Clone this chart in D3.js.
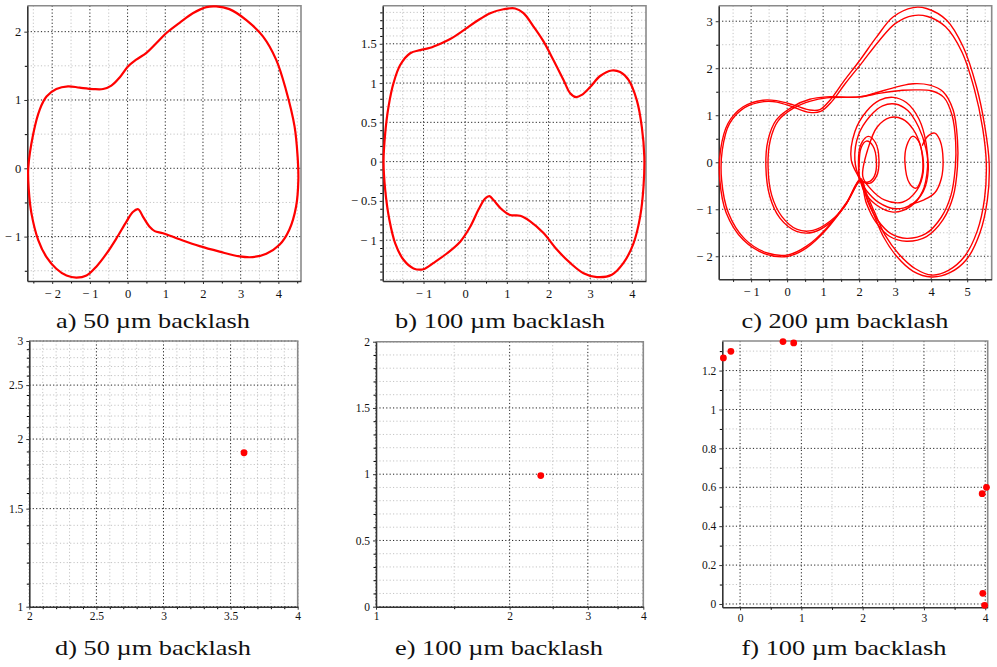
<!DOCTYPE html>
<html>
<head>
<meta charset="utf-8">
<script src="https://cdn.jsdelivr.net/npm/d3@7"></script>
<style>
  body { margin: 0; background: #fff; }
  svg { display: block; }
</style>
</head>
<body>
<svg id="chart" width="997" height="667"></svg>
<script>
const serif = "'Liberation Serif', 'DejaVu Serif', 'Times New Roman', Times, serif";

// ---- panel a: 50 um backlash, phase portrait (one closed orbit)
const orbitA = [
  [-2.635,0],[-2.50,0.51],[-2.33,0.86],[-2.15,1.05],[-1.89,1.16],[-1.58,1.20],[-1.27,1.18],[-0.91,1.16],
  [-0.65,1.16],[-0.43,1.21],[-0.21,1.33],[0.01,1.49],[0.23,1.59],[0.50,1.69],[0.76,1.83],[1.03,1.98],
  [1.38,2.13],[1.73,2.27],[2.09,2.36],[2.35,2.37],[2.70,2.33],[3.15,2.17],[3.59,1.93],[3.94,1.59],
  [4.20,1.15],[4.43,0.61],[4.51,0.17],[4.53,-0.17],[4.47,-0.56],[4.29,-0.90],[4.03,-1.12],[3.68,-1.25],
  [3.32,-1.30],[2.97,-1.29],[2.44,-1.22],[1.91,-1.14],[1.38,-1.04],[0.94,-0.95],[0.72,-0.92],[0.59,-0.86],
  [0.41,-0.71],[0.28,-0.60],[0.14,-0.64],[-0.03,-0.78],[-0.30,-1.03],[-0.56,-1.25],[-0.83,-1.44],
  [-1.09,-1.57],[-1.36,-1.60],[-1.62,-1.57],[-1.89,-1.47],[-2.15,-1.30],[-2.37,-1.05],[-2.55,-0.66],[-2.62,-0.32]
];

// ---- panel b: 100 um backlash
const orbitB = [
  [-1.96,0],[-1.92,0.36],[-1.84,0.70],[-1.72,1.0],[-1.56,1.23],[-1.32,1.38],[-1.08,1.42],[-0.84,1.45],
  [-0.6,1.50],[-0.36,1.56],[-0.04,1.67],[0.28,1.79],[0.6,1.89],[0.92,1.94],[1.2,1.95],[1.4,1.89],
  [1.64,1.72],[1.88,1.53],[2.12,1.29],[2.36,1.04],[2.52,0.87],[2.66,0.82],[2.80,0.85],[3.0,0.95],
  [3.24,1.09],[3.52,1.16],[3.72,1.14],[3.92,1.04],[4.12,0.78],[4.24,0.44],[4.30,0.06],[4.28,-0.32],
  [4.2,-0.70],[4.04,-1.04],[3.8,-1.29],[3.52,-1.44],[3.16,-1.47],[2.84,-1.42],[2.52,-1.29],[2.2,-1.12],
  [1.88,-0.91],[1.56,-0.76],[1.32,-0.69],[1.08,-0.68],[0.88,-0.61],[0.68,-0.49],[0.58,-0.44],[0.48,-0.47],
  [0.32,-0.61],[0.12,-0.83],[-0.12,-1.02],[-0.44,-1.17],[-0.76,-1.29],[-1.0,-1.37],[-1.24,-1.36],
  [-1.48,-1.25],[-1.68,-1.04],[-1.82,-0.74],[-1.92,-0.36]
];

// ---- panel c: 200 um backlash, chaotic orbit traced as several passes
const outerPass1 = [
  [2.02,-0.41],[1.65,-0.87],[1.09,-1.43],[0.54,-1.82],[0.03,-2.0],[-0.57,-1.96],[-1.22,-1.65],[-1.69,-1.08],
  [-1.87,-0.37],[-1.85,0.26],[-1.64,0.83],[-1.22,1.18],[-0.67,1.32],[-0.30,1.31],[0.17,1.22],[0.63,1.11],
  [0.91,1.12],[1.19,1.32],[1.56,1.71],[2.02,2.17],[2.48,2.66],[2.94,3.09],[3.5,3.29],[3.87,3.27],
  [4.43,3.02],[4.89,2.45],[5.26,1.60],[5.49,0.76],[5.61,-0.02],[5.56,-0.80],[5.35,-1.51],[4.98,-2.07],
  [4.52,-2.35],[4.01,-2.44],[3.5,-2.32],[3.04,-2.0],[2.67,-1.58],[2.39,-1.08],[2.16,-0.66]
];
const outerPass2 = [
  [2.05,-0.38],[1.68,-0.82],[1.12,-1.38],[0.55,-1.78],[0.03,-1.97],[-0.55,-1.93],[-1.18,-1.63],[-1.63,-1.08],
  [-1.82,-0.37],[-1.80,0.26],[-1.60,0.82],[-1.18,1.16],[-0.65,1.29],[-0.28,1.28],[0.18,1.17],[0.62,1.06],
  [0.93,1.08],[1.25,1.30],[1.62,1.68],[2.08,2.12],[2.55,2.58],[3.0,2.95],[3.5,3.12],[3.9,3.10],
  [4.40,2.88],[4.85,2.35],[5.2,1.55],[5.43,0.72],[5.53,-0.02],[5.48,-0.78],[5.28,-1.46],[4.93,-2.0],
  [4.48,-2.30],[4.02,-2.40],[3.55,-2.26],[3.1,-1.95],[2.72,-1.55],[2.42,-1.05],[2.18,-0.62]
];
const innerPass1 = [
  [2.02,-0.37],[1.6,-0.94],[1.19,-1.29],[0.72,-1.49],[0.26,-1.47],[-0.2,-1.19],[-0.48,-0.73],[-0.59,-0.09],
  [-0.53,0.47],[-0.30,0.90],[0.17,1.19],[0.63,1.34],[1.09,1.39],[2.02,1.39],[2.57,1.50],[3.13,1.62],
  [3.5,1.67],[3.96,1.64],[4.33,1.50],[4.61,1.11],[4.73,0.47],[4.73,-0.09],[4.61,-0.73],[4.33,-1.22],
  [3.87,-1.58],[3.31,-1.68],[2.85,-1.58],[2.48,-1.29],[2.2,-0.87]
];
const innerPass2 = [
  [2.05,-0.35],[1.63,-0.90],[1.2,-1.25],[0.72,-1.45],[0.28,-1.43],[-0.15,-1.15],[-0.43,-0.7],[-0.53,-0.08],
  [-0.47,0.46],[-0.25,0.88],[0.2,1.16],[0.65,1.3],[1.1,1.37],[2.0,1.39],[2.6,1.47],[3.2,1.53],
  [3.6,1.54],[4.0,1.52],[4.35,1.38],[4.58,1.0],[4.68,0.42],[4.67,-0.1],[4.55,-0.7],[4.28,-1.17],
  [3.85,-1.52],[3.32,-1.62],[2.88,-1.52],[2.52,-1.24],[2.24,-0.84]
];
const midLoop1 = [
  [2.02,-0.37],[1.78,0.05],[1.88,0.65],[2.2,1.08],[2.57,1.32],[2.94,1.38],[3.31,1.27],[3.66,0.92],
  [3.86,0.40],[3.9,-0.09],[3.76,-0.62],[3.43,-0.94],[2.94,-1.06],[2.46,-0.9],[2.14,-0.62]
];
const midLoop2 = [
  [2.02,-0.37],[1.88,0.05],[1.98,0.58],[2.3,0.98],[2.65,1.2],[3.0,1.24],[3.35,1.1],[3.65,0.75],
  [3.85,0.3],[3.92,-0.15],[3.78,-0.62],[3.45,-0.9],[3.0,-0.99],[2.55,-0.86],[2.2,-0.6]
];
const midLoop3 = [
  [2.1,-0.3],[2.25,0.3],[2.5,0.75],[2.85,0.95],[3.2,0.92],[3.5,0.7],[3.72,0.3],[3.78,-0.2],
  [3.6,-0.6],[3.2,-0.85],[2.7,-0.8],[2.3,-0.55]
];
const smallLoop1 = [[2.02,-0.37],[2.0,-0.05],[2.05,0.3],[2.2,0.45],[2.38,0.35],[2.48,0.0],[2.42,-0.3],[2.25,-0.42]];
const smallLoop2 = [[2.05,-0.38],[1.98,0.0],[2.05,0.38],[2.25,0.55],[2.45,0.42],[2.55,0.05],[2.48,-0.3],[2.28,-0.45]];
const rightLoop = [[3.27,0],[3.32,0.35],[3.48,0.55],[3.65,0.45],[3.76,0.1],[3.74,-0.3],[3.58,-0.55],[3.4,-0.45]];
const bumpArc = [[3.75,0.35],[3.9,0.55],[4.1,0.62],[4.25,0.45],[4.33,0.05],[4.28,-0.35],[4.1,-0.65],[3.8,-0.8],[3.4,-0.9]];

// ---- panels d, e, f: Poincare section points
const pointsD = [[3.6,1.89]];
const pointsE = [[2.35,0.99]];
const pointsF = [
  [-0.272,1.265],[-0.15,1.299],[0.70,1.349],[0.875,1.342],
  [3.95,0.567],[4.02,0.60],[3.96,0.055],[3.99,-0.007]
];

// ---- tick values
const ticksAx = [-2,-1,0,1,2,3,4],  ticksAy = [-1,0,1,2];
const ticksBx = [-1,0,1,2,3,4],     ticksBy = [-1,-0.5,0,0.5,1,1.5];
const ticksCx = [-1,0,1,2,3,4,5],   ticksCy = [-2,-1,0,1,2,3];
const ticksDx = [2,2.5,3,3.5,4],    ticksDy = [1,1.5,2,2.5,3];
const ticksEx = [1,2,3,4],          ticksEy = [0,0.5,1,1.5,2];
const ticksFx = [0,1,2,3,4],        ticksFy = [0,0.2,0.4,0.6,0.8,1,1.2];

const captions = ["a) 50 \u00b5m backlash", "b) 100 \u00b5m backlash", "c) 200 \u00b5m backlash",
                  "d) 50 \u00b5m backlash", "e) 100 \u00b5m backlash", "f) 100 \u00b5m backlash"];

function steps(lo, hi, step, skip) {
  // minor grid positions between lo and hi, leaving out the major ones
  const out = [];
  for (let i = Math.ceil(lo / step - 1e-9); i * step <= hi + 1e-9; i++) {
    const v = +(i * step).toFixed(6);
    if (!skip.some(s => Math.abs(s - v) < 1e-6)) out.push(v);
  }
  return out;
}

const fmt = v => String(v).replace("-", "\u2212 ");

const svg = d3.select("#chart");

function drawPanel(p) {
  const [left, top, right, bottom] = p.box;
  const x = (p.xLog ? d3.scaleLog() : d3.scaleLinear()).domain(p.xDomain).range([left, right]);
  const y = (p.yLog ? d3.scaleLog() : d3.scaleLinear()).domain(p.yDomain).range([bottom, top]);
  const g = svg.append("g");

  // minor grid
  g.append("g").selectAll("line").data(p.xMinor).join("line")
    .attr("x1", d => x(d)).attr("x2", d => x(d)).attr("y1", top).attr("y2", bottom)
    .attr("stroke", "#c4c4c4").attr("stroke-dasharray", "1.2,2.2");
  g.append("g").selectAll("line").data(p.yMinor).join("line")
    .attr("y1", d => y(d)).attr("y2", d => y(d)).attr("x1", left).attr("x2", right)
    .attr("stroke", "#c4c4c4").attr("stroke-dasharray", "1.2,2.2");

  // major grid
  g.append("g").selectAll("line").data(p.xTicks).join("line")
    .attr("x1", d => x(d)).attr("x2", d => x(d)).attr("y1", top).attr("y2", bottom)
    .attr("stroke", "#222").attr("stroke-dasharray", "1.2,2.2");
  g.append("g").selectAll("line").data(p.yTicks).join("line")
    .attr("y1", d => y(d)).attr("y2", d => y(d)).attr("x1", left).attr("x2", right)
    .attr("stroke", "#222").attr("stroke-dasharray", "1.2,2.2");

  // frame: top and right in grey
  g.append("path")
    .attr("d", `M${left},${top}H${right}V${bottom}`)
    .attr("fill", "none").attr("stroke", "#8a8a8a").attr("stroke-width", 1.6);

  // minor ticks on the axes
  g.append("g").attr("transform", `translate(0,${bottom})`)
    .call(d3.axisBottom(x).tickValues(p.xMinor).tickSize(2.5).tickSizeOuter(0).tickFormat(""))
    .call(a => a.select(".domain").remove());
  g.append("g").attr("transform", `translate(${left},0)`)
    .call(d3.axisLeft(y).tickValues(p.yMinor).tickSize(2.5).tickSizeOuter(0).tickFormat(""))
    .call(a => a.select(".domain").remove());

  // main axes
  const ax = g.append("g").attr("transform", `translate(0,${bottom})`)
    .call(d3.axisBottom(x).tickValues(p.xTicks).tickSize(3).tickSizeOuter(0).tickPadding(p.pad).tickFormat(fmt));
  const ay = g.append("g").attr("transform", `translate(${left},0)`)
    .call(d3.axisLeft(y).tickValues(p.yTicks).tickSize(3).tickSizeOuter(0).tickPadding(3).tickFormat(fmt));
  [ax, ay].forEach(a => {
    a.attr("font-family", serif).attr("font-size", p.fontSize);
    a.select(".domain").attr("stroke", "#333").attr("stroke-width", 1.6);
    a.selectAll(".tick line").attr("stroke", "#333");
    a.selectAll("text").attr("fill", "#111");
  });

  // orbits
  const line = d3.line().x(d => x(d[0])).y(d => y(d[1]));
  (p.loops || []).forEach(L => {
    g.append("path").datum(L.data)
      .attr("d", line.curve(L.open ? d3.curveCatmullRom : d3.curveCatmullRomClosed)(L.data))
      .attr("fill", "none").attr("stroke", "#ff0000").attr("stroke-width", p.lineWidth)
      .attr("stroke-linejoin", "round");
  });

  // section points
  g.append("g").selectAll("circle").data(p.points || []).join("circle")
    .attr("cx", d => x(d[0])).attr("cy", d => y(d[1])).attr("r", 3.4)
    .attr("fill", "#ff0000");

  // caption
  svg.append("text")
    .attr("x", p.cap[0]).attr("y", p.cap[1])
    .attr("text-anchor", "middle")
    .attr("font-family", serif)
    .attr("font-size", 21)
    .attr("fill", "#111")
    .attr("textLength", p.cap[2]).attr("lengthAdjust", "spacingAndGlyphs")
    .text(p.caption);
}

drawPanel({
  box: [27.3, 5.7, 301, 281], xDomain: [-2.66, 4.6], yDomain: [-1.65, 2.38],
  xTicks: ticksAx, yTicks: ticksAy,
  xMinor: steps(-2.66, 4.6, 0.5, ticksAx), yMinor: steps(-1.65, 2.38, 0.5, ticksAy),
  loops: [{data: orbitA}], lineWidth: 2.2, fontSize: 12.5, pad: 5,
  caption: captions[0], cap: [153, 328, 194]
});
drawPanel({
  box: [382.7, 5.7, 646, 281], xDomain: [-1.98, 4.34], yDomain: [-1.52, 1.985],
  xTicks: ticksBx, yTicks: ticksBy,
  xMinor: steps(-1.98, 4.34, 0.5, ticksBx), yMinor: steps(-1.52, 1.985, 0.1, ticksBy),
  loops: [{data: orbitB}], lineWidth: 2.2, fontSize: 12.5, pad: 5,
  caption: captions[1], cap: [500, 328, 210]
});
drawPanel({
  box: [718.7, 5.7, 991.7, 279.3], xDomain: [-1.9, 5.68], yDomain: [-2.49, 3.33],
  xTicks: ticksCx, yTicks: ticksCy,
  xMinor: steps(-1.9, 5.68, 0.5, ticksCx), yMinor: steps(-2.49, 3.33, 0.5, ticksCy),
  loops: [{data: outerPass1}, {data: outerPass2}, {data: innerPass1}, {data: innerPass2},
          {data: midLoop1}, {data: midLoop2}, {data: midLoop3}, {data: smallLoop1}, {data: smallLoop2},
          {data: rightLoop}, {data: bumpArc, open: true}],
  lineWidth: 1.4, fontSize: 12.5, pad: 5,
  caption: captions[2], cap: [845, 328, 207]
});
drawPanel({
  box: [29.3, 341, 297.7, 606.7], xDomain: [2, 4], yDomain: [1, 3], yLog: true,
  xTicks: ticksDx, yTicks: ticksDy,
  xMinor: steps(2, 4, 0.1, ticksDx), yMinor: steps(1, 3, 0.1, ticksDy),
  points: pointsD, lineWidth: 2, fontSize: 11.5, pad: 2,
  caption: captions[3], cap: [153, 655, 196]
});
drawPanel({
  box: [376, 341.7, 643.3, 606.7], xDomain: [1, 4], yDomain: [0, 2], xLog: true,
  xTicks: ticksEx, yTicks: ticksEy,
  xMinor: steps(1, 4, 0.5, ticksEx), yMinor: steps(0, 2, 0.1, ticksEy),
  points: pointsE, lineWidth: 2, fontSize: 11.5, pad: 2,
  caption: captions[4], cap: [499, 655, 208]
});
drawPanel({
  box: [722.3, 341, 987.7, 607.3], xDomain: [-0.29, 4.04], yDomain: [-0.017, 1.352],
  xTicks: ticksFx, yTicks: ticksFy,
  xMinor: steps(-0.29, 4.04, 0.5, ticksFx), yMinor: steps(-0.017, 1.352, 0.1, ticksFy),
  points: pointsF, lineWidth: 2, fontSize: 11.5, pad: 4,
  caption: captions[5], cap: [844, 655, 205]
});
</script>
</body>
</html>
